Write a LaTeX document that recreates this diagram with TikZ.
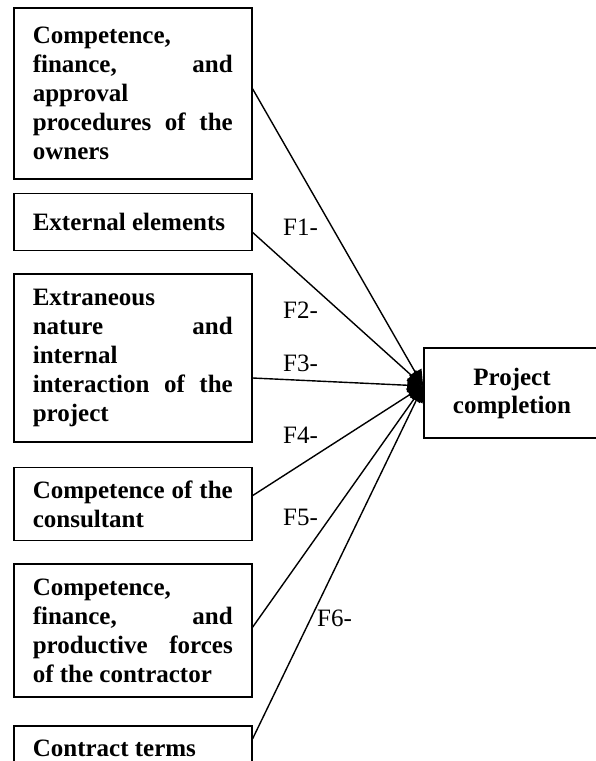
\documentclass[tikz,border=0pt]{standalone}
\usepackage{fontspec}
\setmainfont{Liberation Serif}
\usetikzlibrary{positioning}
\usetikzlibrary {arrows.meta}
\tikzset{factor/.style={rectangle,draw=black,line width=1.6pt,fill=white,
text width=200pt,inner xsep=19pt,inner ysep=0pt,align=justify,
font=\fontsize{25}{29}\selectfont\bfseries}}
\tikzset{outcome/.style={rectangle,draw=black,line width=1.6pt,fill=white,
inner sep=0pt,minimum width=176pt,minimum height=90pt,align=center,
font=\fontsize{25}{28}\selectfont\bfseries}}
\tikzset{flabel/.style={inner sep=0pt,anchor=west,
font=\fontsize{25}{29}\selectfont}}
\tikzset{link/.style={line width=1.4pt,-{Triangle[length=16pt,width=14pt]}}}

\begin{document}
\begin{tikzpicture}[x=1pt,y=-1pt]
    \useasboundingbox (0,0) rectangle (596,761);
    \clip (0,0) rectangle (596,761);

        \node[factor,minimum height=171pt,anchor=north west] (boxA) at (13,7)
            {Competence,\newline finance, and\linebreak approval\newline procedures of the\linebreak owners};
        \node[factor,minimum height=57pt] (boxB) [below=13pt of boxA] {External elements};
        \node[factor,minimum height=168pt] (boxC) [below=22pt of boxB]
            {Extraneous\newline nature and\linebreak internal\newline interaction of the\linebreak project};
        \node[factor,minimum height=73pt] (boxD) [below=24pt of boxC] {Competence of the\linebreak consultant};
        \node[factor,minimum height=133pt] (boxE) [below=22pt of boxD]
            {Competence,\newline finance, and\linebreak productive forces\linebreak of the contractor};
        \node[factor,minimum height=46pt] (boxF) [below=27pt of boxE] {Contract terms};

        \node[outcome] (proj) at (512,393) {Project\\completion};
        \coordinate (hub) at ([yshift=7pt]proj.west);

        \draw[link] ([yshift=4.5pt]boxA.east) -- (hub);
        \draw[link] ([yshift=-10.5pt]boxB.east) -- (hub);
        \draw[link] ([yshift=-20pt]boxC.east) -- (hub);
        \draw[link] ([yshift=8.5pt]boxD.east) -- (hub);
        \draw[link] ([yshift=3.5pt]boxE.east) -- (hub);
        \draw[link] ([yshift=10pt]boxF.east) -- (hub);

        \node[flabel] (fA) at (283,227) {F1-};
        \node[flabel] (fB) at (283,310) {F2-};
        \node[flabel] (fC) at (283,363) {F3-};
        \node[flabel] (fD) at (283,435) {F4-};
        \node[flabel] (fE) at (283,517) {F5-};
        \node[flabel] (fF) at (317,618) {F6-};

\end{tikzpicture}
\end{document}
